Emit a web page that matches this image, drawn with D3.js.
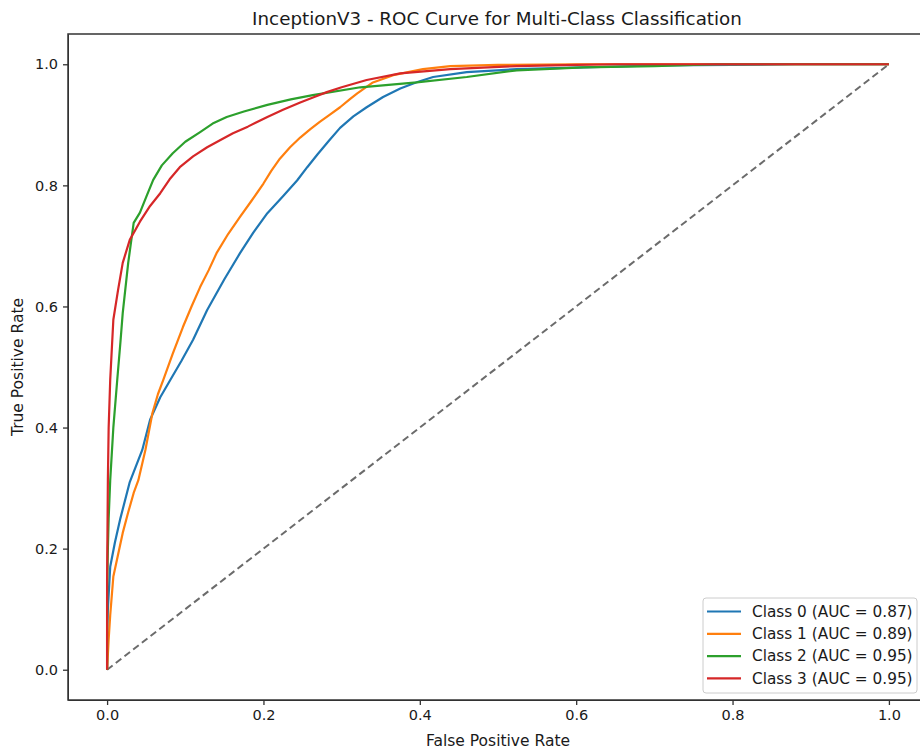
<!DOCTYPE html>
<html>
<head>
<meta charset="utf-8">
<script src="https://cdn.jsdelivr.net/npm/d3@7"></script>
<style>
  body { margin: 0; background: #fff; }
  text { font-family: "DejaVu Sans", sans-serif; fill: #1a1a1a; }
  .axis path, .axis line { stroke: #333; }
</style>
</head>
<body>
<svg id="chart"></svg>
<script>
// ROC points (fpr, tpr) per class
const classNames = ['Class 0', 'Class 1', 'Class 2', 'Class 3'];
const aucValues = [0.87, 0.89, 0.95, 0.95];
const colors = ['#1f77b4', '#ff7f0e', '#2ca02c', '#d62728'];
const tickValues = [0, 0.2, 0.4, 0.6, 0.8, 1.0];

const fpr0 = [0, 0, 0.001, 0.004, 0.010, 0.017, 0.029, 0.045, 0.055, 0.068, 0.081, 0.095, 0.11, 0.128, 0.15, 0.17, 0.187, 0.205, 0.225, 0.243, 0.256, 0.269, 0.284, 0.298, 0.315, 0.332, 0.353, 0.375, 0.395, 0.417, 0.46, 0.524, 0.609, 0.70, 0.80, 0.88, 1.0];
const tpr0 = [0, 0.06, 0.10, 0.17, 0.21, 0.25, 0.31, 0.363, 0.413, 0.45, 0.479, 0.51, 0.545, 0.594, 0.645, 0.688, 0.722, 0.754, 0.782, 0.808, 0.83, 0.851, 0.874, 0.895, 0.914, 0.929, 0.946, 0.96, 0.97, 0.979, 0.987, 0.992, 0.995, 0.998, 0.999, 1.0, 1.0];

const fpr1 = [0, 0.002, 0.004, 0.008, 0.014, 0.02, 0.027, 0.034, 0.04, 0.049, 0.058, 0.065, 0.072, 0.084, 0.097, 0.108, 0.119, 0.13, 0.14, 0.155, 0.17, 0.185, 0.2, 0.21, 0.221, 0.234, 0.247, 0.26, 0.272, 0.285, 0.298, 0.311, 0.32, 0.34, 0.366, 0.404, 0.439, 0.5, 0.6, 1.0];
const tpr1 = [0, 0.05, 0.09, 0.154, 0.19, 0.226, 0.26, 0.292, 0.313, 0.363, 0.424, 0.455, 0.479, 0.522, 0.566, 0.60, 0.632, 0.66, 0.688, 0.72, 0.748, 0.775, 0.803, 0.824, 0.844, 0.863, 0.879, 0.893, 0.905, 0.917, 0.929, 0.943, 0.952, 0.97, 0.982, 0.992, 0.997, 0.999, 1.0, 1.0];

const fpr2 = [0, 0, 0.001, 0.002, 0.004, 0.008, 0.013, 0.017, 0.02, 0.027, 0.034, 0.042, 0.051, 0.059, 0.07, 0.084, 0.1, 0.119, 0.135, 0.153, 0.175, 0.205, 0.235, 0.263, 0.324, 0.396, 0.46, 0.524, 0.609, 0.7, 0.78, 1.0];
const tpr2 = [0, 0.12, 0.2, 0.25, 0.313, 0.40, 0.479, 0.54, 0.589, 0.672, 0.738, 0.755, 0.784, 0.809, 0.833, 0.853, 0.872, 0.888, 0.902, 0.913, 0.922, 0.933, 0.942, 0.949, 0.962, 0.97, 0.979, 0.99, 0.995, 0.997, 1.0, 1.0];

const fpr3 = [0, 0, 0.001, 0.002, 0.004, 0.008, 0.014, 0.02, 0.029, 0.042, 0.055, 0.068, 0.08, 0.093, 0.11, 0.128, 0.145, 0.161, 0.18, 0.205, 0.225, 0.247, 0.265, 0.281, 0.3, 0.332, 0.375, 0.439, 0.524, 0.6, 0.65, 1.0];
const tpr3 = [0, 0.15, 0.313, 0.40, 0.479, 0.578, 0.627, 0.672, 0.71, 0.74, 0.766, 0.787, 0.81, 0.83, 0.848, 0.863, 0.875, 0.886, 0.897, 0.913, 0.925, 0.937, 0.946, 0.954, 0.962, 0.974, 0.985, 0.992, 0.997, 0.999, 1.0, 1.0];

const fprs = [fpr0, fpr1, fpr2, fpr3];
const tprs = [tpr0, tpr1, tpr2, tpr3];

const width = 920, height = 751;
const margin = {top: 34, right: -8, bottom: 51, left: 68};
const plotW = width - margin.left - margin.right;
const plotH = height - margin.top - margin.bottom;

const svg = d3.select('#chart')
    .attr('width', width)
    .attr('height', height);

const xScale = d3.scaleLinear().domain([-0.05, 1.05]).range([0, plotW]);
const yScale = d3.scaleLinear().domain([-0.05, 1.05]).range([plotH, 0]);

const chart = svg.append('g')
    .attr('transform', `translate(${margin.left},${margin.top})`);

chart.append('clipPath').attr('id', 'clip')
  .append('rect').attr('width', plotW).attr('height', plotH);

// diagonal reference line
chart.append('line')
    .attr('clip-path', 'url(#clip)')
    .attr('x1', xScale(0)).attr('y1', yScale(0))
    .attr('x2', xScale(1)).attr('y2', yScale(1))
    .attr('stroke', '#6b6b6b')
    .attr('stroke-width', 2)
    .attr('stroke-dasharray', '7,4');

const line = d3.line()
    .x(d => xScale(d[0]))
    .y(d => yScale(d[1]));

const series = classNames.map((name, i) => ({
  name: name,
  auc: aucValues[i],
  color: colors[i],
  points: fprs[i].map((f, j) => [f, tprs[i][j]])
}));

chart.append('g').attr('clip-path', 'url(#clip)')
  .selectAll('.roc')
    .data(series)
    .enter()
  .append('path')
    .attr('class', 'roc')
    .attr('d', d => line(d.points))
    .attr('fill', 'none')
    .attr('stroke', d => d.color)
    .attr('stroke-width', 2.2)
    .attr('stroke-linejoin', 'round');

// axes
const xAxis = d3.axisBottom(xScale).tickValues(tickValues).tickFormat(d3.format('.1f')).tickSize(5).tickPadding(5).tickSizeOuter(0);
const yAxis = d3.axisLeft(yScale).tickValues(tickValues).tickFormat(d3.format('.1f')).tickSize(5).tickPadding(5).tickSizeOuter(0);

chart.append('g').attr('class', 'axis x-axis')
    .attr('transform', `translate(0,${plotH})`).call(xAxis);
chart.append('g').attr('class', 'axis y-axis').call(yAxis);
chart.selectAll('.axis text').style('font-size', '14.5px').style('font-family', '"DejaVu Sans", sans-serif').attr('fill', '#1a1a1a');
chart.selectAll('.axis line').attr('stroke-width', 1.3);

// frame
chart.append('rect')
    .attr('width', plotW).attr('height', plotH)
    .attr('fill', 'none').attr('stroke', '#333').attr('stroke-width', 1.5);

// title and labels
svg.append('text')
    .attr('x', margin.left + plotW / 2 - 1).attr('y', 25)
    .attr('text-anchor', 'middle')
    .style('font-size', '18.3px')
    .text('InceptionV3 - ROC Curve for Multi-Class Classification');

svg.append('text')
    .attr('x', margin.left + plotW / 2).attr('y', 746)
    .attr('text-anchor', 'middle')
    .style('font-size', '15.5px')
    .text('False Positive Rate');

svg.append('text')
    .attr('transform', `translate(23,${margin.top + yScale(0.5)}) rotate(-90)`)
    .attr('text-anchor', 'middle')
    .style('font-size', '15.5px')
    .text('True Positive Rate');

// legend
const legend = svg.append('g').attr('transform', 'translate(703,598)');
legend.append('rect')
    .attr('width', 214).attr('height', 95).attr('rx', 3)
    .attr('fill', 'rgba(255,255,255,0.8)')
    .attr('stroke', '#cccccc');
const items = legend.selectAll('.item')
    .data(series)
    .enter()
  .append('g')
    .attr('class', 'item')
    .attr('transform', (d, i) => `translate(0,${13.5 + i * 22.3})`);
items.append('line')
    .attr('x1', 4).attr('x2', 38)
    .attr('stroke', d => d.color).attr('stroke-width', 2.2);
items.append('text')
    .attr('x', 49).attr('dy', '0.35em')
    .style('font-size', '15.3px')
    .text(d => `${d.name} (AUC = ${d.auc.toFixed(2)})`);
</script>
</body>
</html>
